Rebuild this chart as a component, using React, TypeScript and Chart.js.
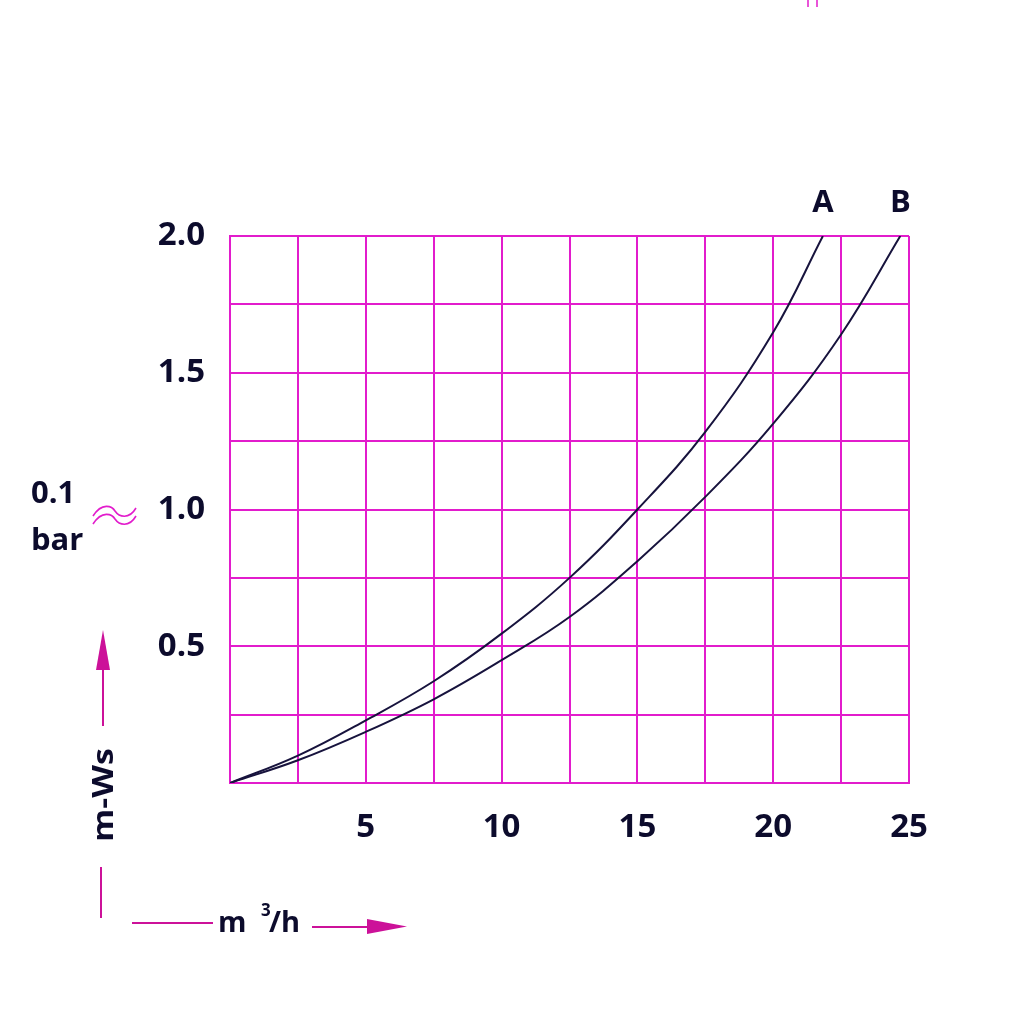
import React, { useEffect, useRef } from "react";
import { Chart, registerables } from "chart.js";

Chart.register(...registerables);

// ---- data ----
const seriesNames = ["A", "B"];
const flowA = [0, 2.5, 5, 7.5, 10, 12.5, 15, 17.5, 20, 21.83];
const headA = [0, 0.1, 0.229, 0.372, 0.546, 0.75, 1.0, 1.284, 1.648, 2.0];
const flowB = [0, 2.5, 5, 7.5, 10, 12.5, 15, 17.5, 20, 22.5, 24.68];
const headB = [0, 0.083, 0.187, 0.306, 0.449, 0.607, 0.811, 1.046, 1.314, 1.64, 2.0];
const xTickLabels = [5, 10, 15, 20, 25];
const yTickLabels = [0.5, 1.0, 1.5, 2.0];
const xMax = 25;
const yMax = 2.0;
const xStep = 2.5;
const yStep = 0.25;
const yUnitTop = "0.1";
const yUnitBottom = "bar";
const yAxisTitle = "m-Ws";
const xAxisTitleMain = "m";
const xAxisTitleSup = "3";
const xAxisTitleRest = "/h";

const GRID = "#e21ccc";
const ARROW = "#cc1199";
const INK = "#0c0b2c";
const CURVE = "#17133d";
const FONT = "'Open Sans', 'DejaVu Sans', sans-serif";

const decorPlugin = {
  id: "decor",
  afterDraw(chart: any) {
    const ctx: CanvasRenderingContext2D = chart.ctx;
    const xs = chart.scales.x;
    const top = chart.chartArea.top;
    ctx.save();

    // Curve end labels A / B
    ctx.fillStyle = INK;
    ctx.font = `bold 31px ${FONT}`;
    ctx.textAlign = "center";
    ctx.textBaseline = "alphabetic";
    chart.data.datasets.forEach((ds: any, i: number) => {
      const last = ds.data[ds.data.length - 1];
      ctx.fillText(seriesNames[i], xs.getPixelForValue(last.x), top - 24);
    });

    // unit text "0.1 bar"
    ctx.textAlign = "left";
    ctx.font = `bold 31px ${FONT}`;
    ctx.fillText(yUnitTop, 31, 503);
    ctx.fillText(yUnitBottom, 31, 550);

    // approx sign
    ctx.strokeStyle = GRID;
    ctx.lineWidth = 1.6;
    for (const dy of [0, 8]) {
      ctx.beginPath();
      ctx.moveTo(93, 516 + dy);
      ctx.bezierCurveTo(102, 502 + dy, 112, 506 + dy, 115, 511 + dy);
      ctx.bezierCurveTo(119, 517 + dy, 129, 520 + dy, 136, 508 + dy);
      ctx.stroke();
    }

    // vertical axis title with arrow
    ctx.strokeStyle = ARROW;
    ctx.fillStyle = ARROW;
    ctx.lineWidth = 2;
    ctx.beginPath();
    ctx.moveTo(103, 726);
    ctx.lineTo(103, 668);
    ctx.stroke();
    ctx.beginPath();
    ctx.moveTo(103, 630);
    ctx.lineTo(110, 670);
    ctx.lineTo(96, 670);
    ctx.closePath();
    ctx.fill();
    ctx.beginPath();
    ctx.moveTo(101, 867);
    ctx.lineTo(101, 918);
    ctx.stroke();

    ctx.save();
    ctx.translate(104, 795);
    ctx.rotate(-Math.PI / 2);
    ctx.fillStyle = INK;
    ctx.font = `bold 29px ${FONT}`;
    ctx.textAlign = "center";
    ctx.textBaseline = "middle";
    const w = ctx.measureText(yAxisTitle).width;
    ctx.scale(94 / w, 1);
    ctx.fillText(yAxisTitle, 0, 1);
    ctx.restore();

    // horizontal axis title with arrow
    ctx.strokeStyle = ARROW;
    ctx.fillStyle = ARROW;
    ctx.lineWidth = 2;
    ctx.beginPath();
    ctx.moveTo(132, 923);
    ctx.lineTo(213, 923);
    ctx.stroke();
    ctx.beginPath();
    ctx.moveTo(312, 927);
    ctx.lineTo(370, 927);
    ctx.stroke();
    ctx.beginPath();
    ctx.moveTo(407, 926.5);
    ctx.lineTo(367, 919);
    ctx.lineTo(367, 934);
    ctx.closePath();
    ctx.fill();

    ctx.fillStyle = INK;
    ctx.textAlign = "left";
    ctx.textBaseline = "alphabetic";
    ctx.font = `bold 29px ${FONT}`;
    ctx.fillText(xAxisTitleMain, 218, 932);
    ctx.font = `bold 17px ${FONT}`;
    ctx.fillText(xAxisTitleSup, 261, 916);
    ctx.font = `bold 29px ${FONT}`;
    ctx.fillText(xAxisTitleRest, 269, 932);

    // small marks at top
    ctx.strokeStyle = GRID;
    ctx.lineWidth = 1.5;
    ctx.beginPath();
    ctx.moveTo(808, 0);
    ctx.lineTo(808, 7);
    ctx.moveTo(817, 0);
    ctx.lineTo(817, 7);
    ctx.stroke();

    ctx.restore();
  },
};

export default function App() {
  const ref = useRef<HTMLCanvasElement | null>(null);

  useEffect(() => {
    if (!ref.current) return;
    const chart = new Chart(ref.current, {
      type: "scatter",
      data: {
        datasets: [
          {
            label: seriesNames[0],
            data: flowA.map((x, i) => ({ x, y: headA[i] })),
            showLine: true,
            borderColor: CURVE,
            borderWidth: 2,
            pointRadius: 0,
            tension: 0.4,
          },
          {
            label: seriesNames[1],
            data: flowB.map((x, i) => ({ x, y: headB[i] })),
            showLine: true,
            borderColor: CURVE,
            borderWidth: 2,
            pointRadius: 0,
            tension: 0.4,
          },
        ],
      },
      options: {
        responsive: false,
        animation: false,
        devicePixelRatio: 1,
        layout: { padding: { top: 236, right: 115, left: 0, bottom: 0 } },
        plugins: {
          legend: { display: false },
          tooltip: { enabled: false },
        },
        scales: {
          x: {
            type: "linear",
            min: 0,
            max: xMax,
            afterFit(scale: any) {
              scale.height = 241;
            },
            ticks: {
              stepSize: xStep,
              autoSkip: false,
              maxRotation: 0,
              padding: 25,
              color: INK,
              font: { family: FONT, size: 33, weight: "bold" },
              callback: (v: any) => (xTickLabels.includes(Number(v)) ? String(v) : ""),
            },
            grid: { color: GRID, lineWidth: 2, drawTicks: false },
            border: { color: GRID, width: 2 },
          },
          y: {
            type: "linear",
            min: 0,
            max: yMax,
            afterFit(scale: any) {
              scale.width = 230;
            },
            ticks: {
              stepSize: yStep,
              autoSkip: false,
              padding: 25,
              color: INK,
              font: { family: FONT, size: 33, weight: "bold" },
              callback: (v: any) =>
                yTickLabels.some((t) => Math.abs(t - Number(v)) < 1e-9) ? Number(v).toFixed(1) : "",
            },
            grid: { color: GRID, lineWidth: 2, drawTicks: false },
            border: { color: GRID, width: 2 },
          },
        },
      },
      plugins: [decorPlugin],
    });
    return () => chart.destroy();
  }, []);

  return (
    <div style={{ position: "absolute", left: 0, top: 0, width: 1024, height: 1024, background: "#fff" }}>
      <canvas ref={ref} width={1024} height={1024} style={{ display: "block" }} />
    </div>
  );
}
